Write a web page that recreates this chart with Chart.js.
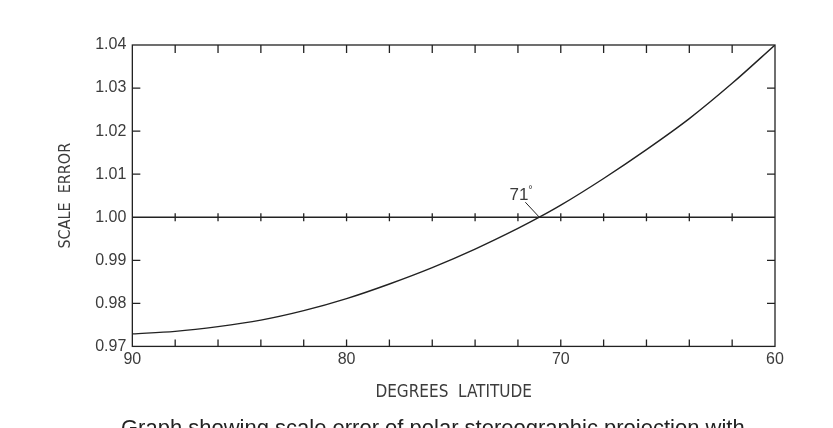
<!DOCTYPE html>
<html>
<head>
<meta charset="utf-8">
<script src="https://cdn.jsdelivr.net/npm/chart.js@4.4.1/dist/chart.umd.min.js"></script>
<style>
  html, body { margin: 0; padding: 0; background: #fff; }
  #wrap { width: 833px; height: 428px; }
</style>
</head>
<body>
<div id="wrap"><canvas id="grafico" width="833" height="428"></canvas></div>
<script>
const latitudes = [90, 88, 86, 84, 82, 80, 78, 76, 74, 72, 71, 70, 68, 66, 64, 62, 60];
const errorEscala = [0.9729, 0.9735, 0.9746, 0.9761, 0.9783, 0.9811, 0.9845, 0.9883, 0.9926, 0.9974, 1.0000,
                     1.0028, 1.0090, 1.0157, 1.0229, 1.0311, 1.0400];
const etiquetasX = [90, 80, 70, 60];
const marcasY = [0.97, 0.98, 0.99, 1.00, 1.01, 1.02, 1.03, 1.04];
const latVerdadera = 71;
const leyenda = 'Graph showing scale error of polar stereographic projection with';

const tinta = '#222';
const texto = '#3c3c3c';
const fuente = "'Liberation Sans', Arial, Helvetica, sans-serif";
const fuenteAngosta = "'Liberation Sans Narrow', 'DejaVu Sans Condensed', 'Liberation Sans', sans-serif";

// marcas interiores, linea de 1.00, rotulo 71 y leyenda inferior
const marcas = {
    id: 'marcas',
    afterDraw(chart) {
        const {ctx, chartArea: a, scales: {x, y}} = chart;
        ctx.save();
        ctx.strokeStyle = tinta;
        ctx.lineWidth = 1.3;
        ctx.strokeRect(a.left, a.top, a.right - a.left, a.bottom - a.top);

        const y1 = y.getPixelForValue(1.00);
        ctx.beginPath();
        ctx.moveTo(a.left, y1);
        ctx.lineTo(a.right, y1);

        for (let v = 88; v > 60; v -= 2) {
            const px = x.getPixelForValue(v);
            ctx.moveTo(px, a.top); ctx.lineTo(px, a.top + 8);
            ctx.moveTo(px, a.bottom); ctx.lineTo(px, a.bottom - 7);
            ctx.moveTo(px, y1 - 4); ctx.lineTo(px, y1 + 4);
        }
        marcasY.forEach(v => {
            if (v === 0.97 || v === 1.00 || v === 1.04) return;
            const py = y.getPixelForValue(v);
            ctx.moveTo(a.left, py); ctx.lineTo(a.left + 8, py);
            ctx.moveTo(a.right, py); ctx.lineTo(a.right - 8, py);
        });
        ctx.stroke();

        // rotulo de la latitud de escala verdadera
        const cx = x.getPixelForValue(latVerdadera);
        ctx.lineWidth = 1;
        ctx.beginPath();
        ctx.moveTo(cx - 14, y1 - 15);
        ctx.lineTo(cx, y1);
        ctx.stroke();
        ctx.fillStyle = texto;
        ctx.font = '17px ' + fuente;
        ctx.textAlign = 'right';
        ctx.textBaseline = 'alphabetic';
        ctx.fillText('71', cx - 11, y1 - 17);
        ctx.font = '11px ' + fuente;
        ctx.textAlign = 'left';
        ctx.fillText('°', cx - 11, y1 - 24);

        // leyenda cortada al pie
        ctx.fillStyle = tinta;
        ctx.font = '20px ' + fuente;
        const ancho = ctx.measureText(leyenda).width;
        const tam = 20 * 624 / ancho;
        ctx.font = tam.toFixed(2) + 'px ' + fuente;
        ctx.textAlign = 'left';
        ctx.fillText(leyenda, 121, 435);
        ctx.restore();
    }
};

function grafico() {
    const ctx = document.getElementById('grafico');

    new Chart(ctx, {
        type: 'line',
        data: {
            labels: latitudes,
            datasets: [{
                label: 'Scale error',
                data: latitudes.map((lat, i) => ({x: lat, y: errorEscala[i]})),
                borderColor: tinta,
                borderWidth: 1.4,
                pointRadius: 0,
                fill: false,
                cubicInterpolationMode: 'monotone'
            }]
        },
        options: {
            responsive: false,
            animation: false,
            layout: {
                padding: {left: 56, right: 58, top: 45, bottom: 25}
            },
            plugins: {
                legend: {display: false},
                tooltip: {enabled: false}
            },
            scales: {
                x: {
                    type: 'linear',
                    reverse: true,
                    min: 60,
                    max: 90,
                    grid: {display: false, drawTicks: false},
                    border: {display: false},
                    afterBuildTicks: s => { s.ticks = etiquetasX.map(v => ({value: v})); },
                    ticks: {
                        autoSkip: false,
                        maxRotation: 0,
                        padding: 4,
                        color: texto,
                        font: {family: fuente, size: 16}
                    },
                    title: {
                        display: true,
                        text: 'DEGREES  LATITUDE',
                        color: texto,
                        font: {family: fuenteAngosta, size: 17},
                        padding: {top: 9, bottom: 0}
                    }
                },
                y: {
                    min: 0.97,
                    max: 1.04,
                    grid: {display: false, drawTicks: false},
                    border: {display: false},
                    afterBuildTicks: s => { s.ticks = marcasY.map(v => ({value: v})); },
                    ticks: {
                        padding: 6,
                        color: texto,
                        font: {family: fuente, size: 16},
                        callback: v => v.toFixed(2)
                    },
                    title: {
                        display: true,
                        text: 'SCALE  ERROR',
                        color: texto,
                        font: {family: fuenteAngosta, size: 16},
                        padding: {top: 0, bottom: 14}
                    }
                }
            }
        },
        plugins: [marcas]
    });
}

grafico();
</script>
</body>
</html>
